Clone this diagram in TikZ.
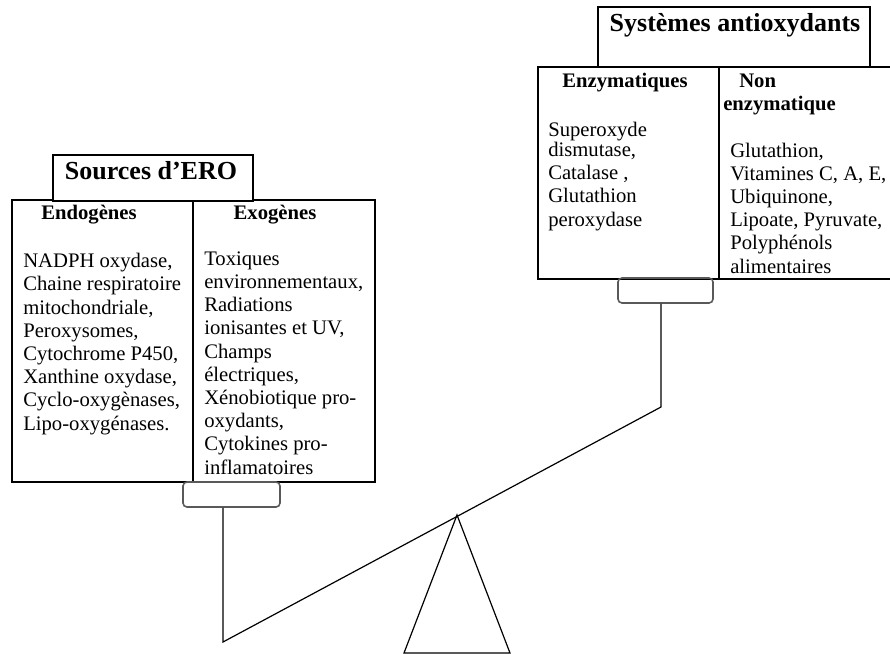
\documentclass[tikz,border=0pt]{standalone}
\usepackage{fontspec}
\setmainfont{Liberation Serif}
\usetikzlibrary{fit}
\begin{document}
\begin{tikzpicture}[x=0.75pt,y=-0.75pt,
  box/.style={draw, line width=1pt, inner sep=0pt},
  pan/.style={draw=black!65, line width=1.2pt, rounded corners=3pt, inner sep=0pt},
  title/.style={font=\fontsize{19.5}{22}\selectfont\bfseries, inner sep=0pt, anchor=base},
  head/.style={font=\fontsize{15.5}{17.4}\selectfont\bfseries, inner sep=0pt},
  body/.style={font=\fontsize{15.5}{17.4}\selectfont, inner sep=0pt, align=left, anchor=base west},
  bar/.style={line width=0.9pt}]
\useasboundingbox (0,0) rectangle (890,654);

% ---- left: Sources d'ERO ----
\node[box, fit={(12,200)(375,482)}] (lbox) {};
\draw[box] (193,200) -- (193,482);
\node[box, fill=white, fit={(53,155)(253,201)}] (ltitle) {};
\node[title] (ltitletext) at (151,179) {Sources d’ERO};
\node[head, anchor=base] (endo) at (89,219) {Endogènes};
\node[head, anchor=base] (exo) at (275,219) {Exogènes};
% body nodes are anchored at the baseline of their last line
\node[body] (endolist) at (23,430) {NADPH oxydase,\\Chaine respiratoire\\mitochondriale,\\Peroxysomes,\\Cytochrome P450,\\Xanthine oxydase,\\Cyclo-oxygènases,\\Lipo-oxygénases.};
\node[body] (exolist) at (204,474) {Toxiques\\environnementaux,\\Radiations\\ionisantes et UV,\\Champs\\électriques,\\Xénobiotique pro-\\oxydants,\\Cytokines pro-\\inflamatoires};
\node[pan, fit={(183,482)(280,507)}] (lpan) {};

% ---- right: Systemes antioxydants ----
\node[box, fit={(598,7)(870,67)}] (rtitle) {};
\node[title] (rtitletext) at (735,31) {Systèmes antioxydants};
\coordinate (rboxtl) at (538,67);
\coordinate (rboxbl) at (538,279);
\draw[box] (890,67) -- (rboxtl) -- (rboxbl) -- (890,279);
\draw[box] (719,67) -- (719,279);
\node[head, anchor=base] (enz) at (625,87) {Enzymatiques};
\node[head, anchor=base west] (nonenz) at (739,87) {Non};
\node[head, anchor=base west] (nonenz2) at (723,110) {enzymatique};
\node[body] (enzlist) at (548,226) {Superoxyde\\[-2.25pt]dismutase,\\Catalase ,\\Glutathion\\peroxydase};
\node[body] (nonenzlist) at (730,273) {Glutathion,\\Vitamines C, A, E,\\Ubiquinone,\\Lipoate, Pyruvate,\\Polyphénols\\alimentaires};
\node[pan, fit={(618,278)(713,303)}] (rpan) {};

% ---- balance ----
\coordinate (lend) at (223,642);
\coordinate (rend) at (661,407);
\coordinate (apex) at (457,515);
\coordinate (tribl) at (404,653);
\coordinate (tribr) at (510,653);
\draw[bar] (lend |- lpan.south) -- (lend) -- (rend) -- (rend |- rpan.south);
\draw[bar] (apex) -- (tribl) -- (tribr) -- cycle;
\end{tikzpicture}
\end{document}
